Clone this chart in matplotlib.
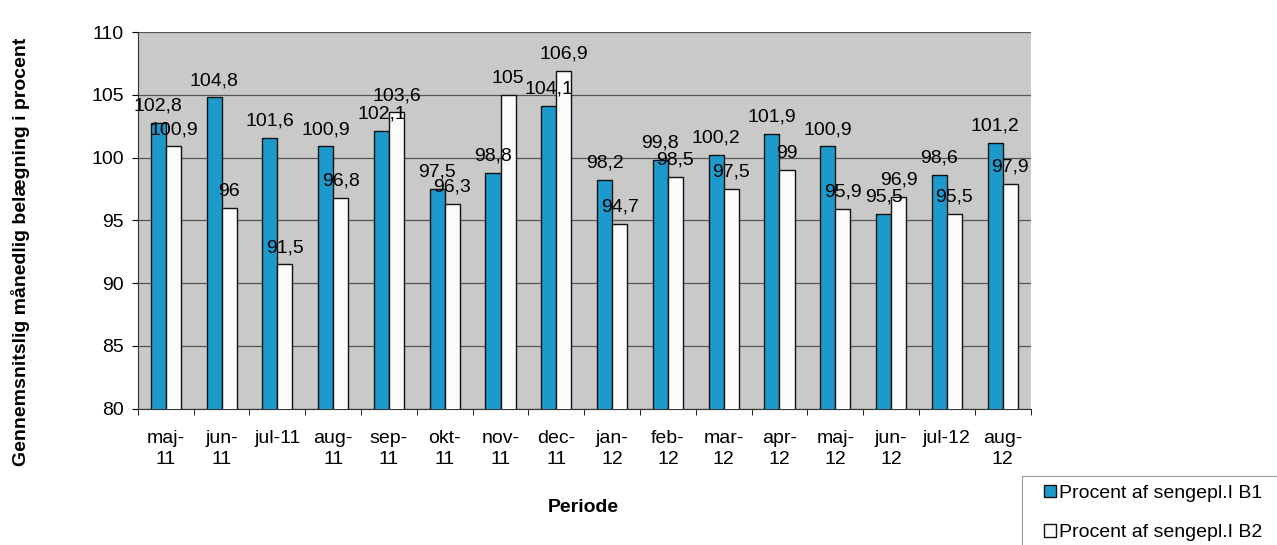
import matplotlib
matplotlib.use("Agg")
import matplotlib.pyplot as plt
from matplotlib.patches import Rectangle
import numpy as np

categories = ["maj-\n11", "jun-\n11", "jul-11", "aug-\n11", "sep-\n11", "okt-\n11", "nov-\n11", "dec-\n11",
              "jan-\n12", "feb-\n12", "mar-\n12", "apr-\n12", "maj-\n12", "jun-\n12", "jul-12", "aug-\n12"]
b1 = [102.8, 104.8, 101.6, 100.9, 102.1, 97.5, 98.8, 104.1, 98.2, 99.8, 100.2, 101.9, 100.9, 95.5, 98.6, 101.2]
b2 = [100.9, 96, 91.5, 96.8, 103.6, 96.3, 105, 106.9, 94.7, 98.5, 97.5, 99, 95.9, 96.9, 95.5, 97.9]
series_names = ["Procent af sengepl.I B1", "Procent af sengepl.I B2"]

plt.rcParams['font.family'] = ['Liberation Sans', 'DejaVu Sans']
fig = plt.figure(figsize=(12.77, 5.45), dpi=100)
ax = fig.add_axes([0.108, 0.250, 0.699, 0.691])
ax.set_facecolor('#c9c9c7')

x = np.arange(len(categories))
w = 0.27
bars1 = ax.bar(x - w/2, b1, w, color='#1b9acb', edgecolor='#111111', linewidth=1.0, label=series_names[0], zorder=3)
bars2 = ax.bar(x + w/2, b2, w, color='#fbfbfb', edgecolor='#111111', linewidth=1.0, label=series_names[1], zorder=3)

def fmt(v):
    return ('%g' % v).replace('.', ',')

fs = 14
for xi, v in zip(x - w/2, b1):
    ax.annotate(fmt(v), (xi, v), xytext=(0, 6), textcoords='offset points',
                ha='center', va='bottom', fontsize=fs, zorder=4)
for xi, v in zip(x + w/2, b2):
    ax.annotate(fmt(v), (xi, v), xytext=(0, 6), textcoords='offset points',
                ha='center', va='bottom', fontsize=fs, zorder=4)

ax.set_ylim(80, 110)
ax.set_xlim(-0.5, len(categories) - 0.5)
ax.set_yticks(range(80, 111, 5))
ax.yaxis.grid(True, color='#555555', linewidth=0.9, zorder=1)
ax.set_axisbelow(True)
ax.set_xticks(x)
ax.set_xticklabels(categories, fontsize=fs, linespacing=1.35)
ax.set_xticks(np.arange(-0.5, len(categories), 1), minor=True)
ax.tick_params(axis='x', which='major', length=0, pad=15)
ax.tick_params(axis='x', which='minor', length=4, direction='out')
ax.tick_params(axis='y', labelsize=fs, length=4, pad=6)
for s in ['top', 'right']:
    ax.spines[s].set_visible(False)
ax.spines['left'].set_color('#333333')
ax.spines['bottom'].set_color('#333333')

fig.text(21/1277, 1 - 252/545, "Gennemsnitslig månedlig belægning i procent", rotation=90,
         ha='center', va='center', fontsize=14, fontweight='bold')
fig.text(583/1277, 1 - 507/545, "Periode", ha='center', va='center', fontsize=14, fontweight='bold')

# legend frame (extends past the figure edge, as in the reference)
fig.patches.append(Rectangle((1022/1277, -0.05), 0.3, 1 - 476/545 + 0.05, transform=fig.transFigure,
                             facecolor='white', edgecolor='#999999', linewidth=0.8, zorder=0))
leg = fig.legend(handles=[bars1, bars2], labels=series_names, loc='upper left',
                 bbox_to_anchor=(1044/1277, 1 - 485/545), fontsize=14, frameon=False,
                 handlelength=0.6, handleheight=0.6, handletextpad=0.15, labelspacing=1.15,
                 borderpad=0.0, borderaxespad=0.0)

fig.savefig("out.png", dpi=100)
